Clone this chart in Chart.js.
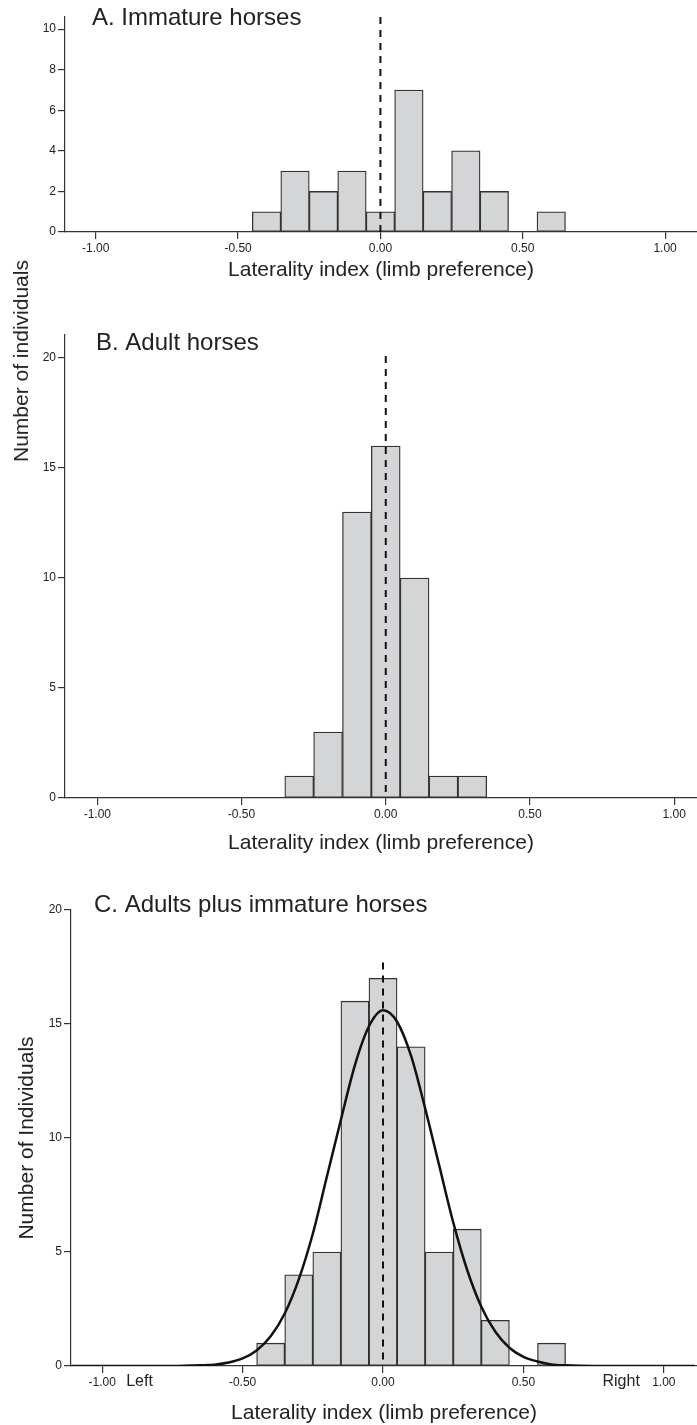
<!DOCTYPE html>
<html>
<head>
<meta charset="utf-8">
<script src="https://cdn.jsdelivr.net/npm/chart.js@4.4.1/dist/chart.umd.min.js"></script>
<style>
  html, body { margin: 0; padding: 0; background: #fff; }
  body { width: 697px; height: 1425px; position: relative; overflow: hidden; font-family: 'Liberation Sans', Arial, sans-serif; }
  .panel { position: absolute; left: 0; width: 697px; }
  #ylabelAB { position: absolute; left: 21px; top: 361px; transform: translate(-50%, -50%) rotate(-90deg);
    font-size: 21px; color: #222; white-space: nowrap; }
</style>
</head>
<body>
<div class="panel" style="top:0;height:300px"><canvas id="chartA"></canvas></div>
<div class="panel" style="top:300px;height:580px"><canvas id="chartB"></canvas></div>
<div class="panel" style="top:880px;height:545px"><canvas id="chartC"></canvas></div>
<div id="ylabelAB">Number of individuals</div>
<script>
// --- data ---
const binCenters = [-0.4, -0.3, -0.2, -0.1, 0, 0.1, 0.2, 0.3, 0.4, 0.5, 0.6];
const immatureCounts = [1, 3, 2, 3, 1, 7, 2, 4, 2, 0, 1];
const adultCenters = [-0.3, -0.2, -0.1, 0, 0.1, 0.2, 0.3];
const adultCounts = [1, 3, 13, 16, 10, 1, 1];
const allCounts = [1, 4, 5, 16, 17, 14, 5, 6, 2, 0, 1];

// fitted normal curve (panel C)
const curveX = [-1.11, -0.9, -0.75, -0.65, -0.6, -0.55, -0.5, -0.45, -0.4, -0.35,
  -0.3, -0.25, -0.2, -0.15, -0.1, -0.05, 0, 0.05, 0.1, 0.15,
  0.2, 0.25, 0.3, 0.35, 0.4, 0.45, 0.5, 0.55, 0.6, 0.65,
  0.75, 0.9, 1.11];
const curveY = [0, 0, 0, 0.03, 0.06, 0.15, 0.33, 0.68, 1.3, 2.3,
  3.8, 5.8, 8.3, 10.8, 13.2, 14.9, 15.6, 15.1, 13.6, 11.3,
  8.8, 6.3, 4.2, 2.6, 1.5, 0.8, 0.4, 0.2, 0.07, 0.03,
  0, 0, 0];

const xTicks = [-1, -0.5, 0, 0.5, 1];
const yTicksA = [0, 2, 4, 6, 8, 10];
const yTicksBC = [0, 5, 10, 15, 20];
const dashTops = [10.6, 20.1, 17.7]; // top of the dashed zero line, per panel

const font = "'Liberation Sans', Arial, sans-serif";
const ink = '#222';
const axisColor = '#333';

const panelText = {
  id: 'panelText',
  afterDraw(chart, args, opts) {
    const ctx = chart.ctx;
    ctx.save();
    ctx.fillStyle = ink;
    ctx.textBaseline = 'middle';
    ctx.textAlign = 'left';
    ctx.font = '24px ' + font;
    ctx.fillText(opts.title, opts.titleX, opts.titleY);
    if (opts.sideLabels) {
      const x = chart.scales.x;
      const y = chart.chartArea.bottom + 16;
      ctx.font = '16px ' + font;
      ctx.fillText('Left', x.getPixelForValue(-1) + 24, y);
      ctx.textAlign = 'right';
      ctx.fillText('Right', x.getPixelForValue(1) - 24, y);
    }
    ctx.restore();
  }
};

function toPoints(xs, ys) {
  return xs.map((x, i) => ({ x, y: ys[i] })).filter(p => p.y > 0);
}

function makePanel(id, p) {
  const datasets = [
    {
      type: 'line',
      // drawn top-down so the dash pattern starts cleanly at the top
      data: [{ x: 0, y: p.dashTop }, { x: 0, y: 0 }],
      borderColor: '#111',
      borderWidth: 2,
      borderDash: [7, 6],
      pointRadius: 0,
      order: 0,
    },
  ];
  if (p.curve) {
    datasets.push({
      type: 'line',
      data: curveX.map((x, i) => ({ x, y: curveY[i] })),
      borderColor: '#111',
      borderWidth: 2.5,
      pointRadius: 0,
      cubicInterpolationMode: 'monotone',
      order: 1,
    });
  }
  datasets.push({
    type: 'bar',
    data: toPoints(p.centers, p.counts),
    backgroundColor: '#d4d5d7',
    borderColor: '#333',
    borderWidth: 1.3,
    borderSkipped: false,
    barPercentage: 1,
    categoryPercentage: 1,
    order: 2,
  });

  return new Chart(document.getElementById(id), {
    type: 'bar',
    data: { datasets },
    plugins: [panelText],
    options: {
      responsive: true,
      maintainAspectRatio: false,
      animation: false,
      layout: { padding: { top: p.top, right: 0, bottom: 0, left: 0 } },
      plugins: {
        legend: { display: false },
        tooltip: { enabled: false },
        panelText: p.text,
      },
      scales: {
        x: {
          type: 'linear',
          min: p.xMin,
          max: p.xMax,
          offset: false,
          afterFit: s => { s.height = p.xAxisHeight; },
          afterBuildTicks: s => { s.ticks = xTicks.map(v => ({ value: v })); },
          grid: { offset: false, drawOnChartArea: false, drawTicks: true, tickLength: 7, color: axisColor, lineWidth: 1.2 },
          border: { display: true, color: axisColor, width: 1.2 },
          ticks: {
            color: ink,
            padding: 2,
            maxRotation: 0,
            autoSkip: false,
            font: { family: font, size: 12 },
            callback: v => v.toFixed(2),
          },
          title: {
            display: true,
            text: 'Laterality index (limb preference)',
            color: ink,
            font: { family: font, size: 21, lineHeight: p.xTitleLH },
            padding: { top: 0, bottom: p.xTitlePad },
          },
        },
        y: {
          min: 0,
          max: p.yMax,
          afterFit: s => { s.width = p.yAxisWidth; },
          afterBuildTicks: s => { s.ticks = p.yTicks.map(v => ({ value: v })); },
          grid: { drawOnChartArea: false, drawTicks: true, tickLength: 7, color: axisColor, lineWidth: 1.2 },
          border: { display: true, color: axisColor, width: 1.2 },
          ticks: {
            color: ink,
            padding: 2,
            font: { family: font, size: 12 },
          },
          title: p.yTitle ? {
            display: true,
            text: p.yTitle,
            color: ink,
            font: { family: font, size: 21 },
            padding: { top: 15, bottom: 0 },
          } : { display: false },
        },
      },
    },
  });
}

makePanel('chartA', {
  centers: binCenters, counts: immatureCounts, dashTop: dashTops[0],
  top: 17, xAxisHeight: 68, yAxisWidth: 65, xTitleLH: 1.2, xTitlePad: 17,
  xMin: -1.108, xMax: 1.112, yMax: 10.6, yTicks: yTicksA,
  text: { title: 'A. Immature horses', titleX: 92, titleY: 18 },
});

makePanel('chartB', {
  centers: adultCenters, counts: adultCounts, dashTop: dashTops[1],
  top: 35, xAxisHeight: 82, yAxisWidth: 65, xTitleLH: 1.2, xTitlePad: 24,
  xMin: -1.112, xMax: 1.079, yMax: 21.05, yTicks: yTicksBC,
  text: { title: 'B. Adult horses', titleX: 96, titleY: 43 },
});

makePanel('chartC', {
  centers: binCenters, counts: allCounts, dashTop: dashTops[2], curve: true,
  top: 30, xAxisHeight: 59, yAxisWidth: 71, xTitleLH: 1.1, xTitlePad: 0,
  xMin: -1.111, xMax: 1.118, yMax: 20, yTicks: yTicksBC,
  yTitle: 'Number of Individuals',
  text: { title: 'C. Adults plus immature horses', titleX: 94, titleY: 25, sideLabels: true },
});
</script>
</body>
</html>
